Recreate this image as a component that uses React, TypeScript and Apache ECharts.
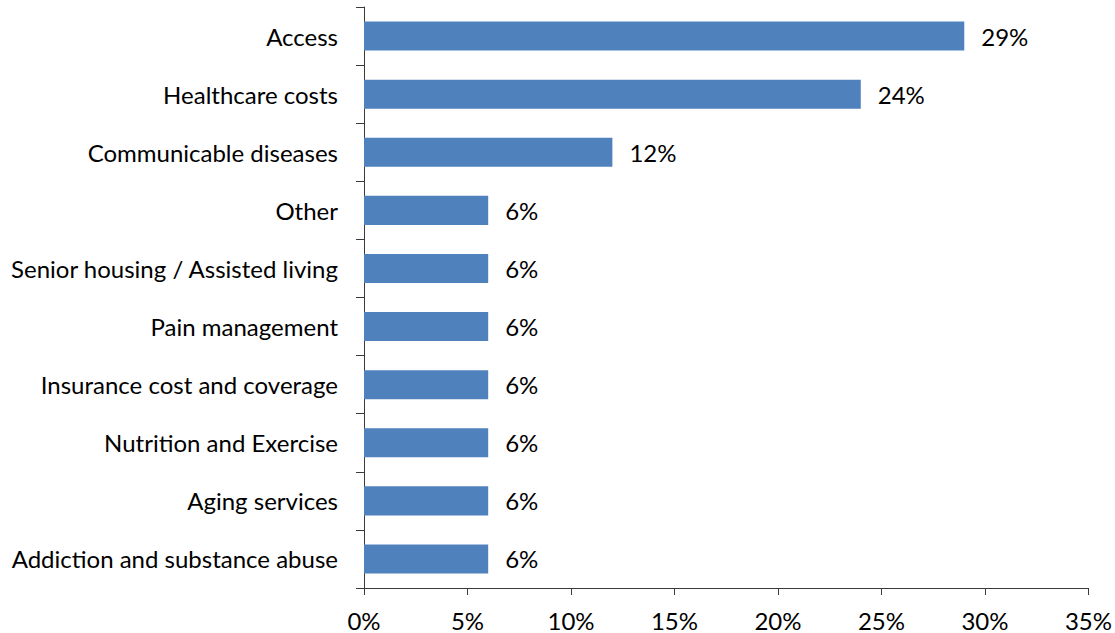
import React, { useEffect, useRef } from "react";
import * as echarts from "echarts";

const categories = [
  "Access",
  "Healthcare costs",
  "Communicable diseases",
  "Other",
  "Senior housing / Assisted living",
  "Pain management",
  "Insurance cost and coverage",
  "Nutrition and Exercise",
  "Aging services",
  "Addiction and substance abuse",
];
const values = [29, 24, 12, 6, 6, 6, 6, 6, 6, 6];
const xTicks = { min: 0, max: 35, interval: 5 };

const FONT = "Lato, 'Open Sans', sans-serif";

export default function App() {
  const ref = useRef<HTMLDivElement>(null);
  useEffect(() => {
    if (!ref.current) return;
    const chart = echarts.init(ref.current, undefined, { renderer: "svg" });
    chart.setOption({
      animation: false,
      backgroundColor: "#ffffff",
      grid: { left: 364, right: 25, top: 7, bottom: 45, containLabel: false },
      xAxis: {
        type: "value",
        min: xTicks.min,
        max: xTicks.max,
        interval: xTicks.interval,
        splitLine: { show: false },
        axisLine: { show: true, lineStyle: { color: "#3a3a3a", width: 1 } },
        axisTick: { show: true, length: 7, lineStyle: { color: "#3a3a3a" } },
        axisLabel: {
          formatter: (v: number) => v + "%",
          color: "#000",
          fontFamily: FONT,
          fontSize: 24,
          margin: 20,
        },
      },
      yAxis: {
        type: "category",
        data: categories,
        inverse: true,
        axisLine: { show: true, lineStyle: { color: "#3a3a3a", width: 1 } },
        axisTick: { show: true, length: 8, lineStyle: { color: "#3a3a3a" } },
        axisLabel: {
          color: "#000",
          fontFamily: FONT,
          fontSize: 24,
          margin: 26,
        },
      },
      series: [
        {
          type: "bar",
          data: values,
          barCategoryGap: "50%",
          itemStyle: { color: "#4F81BD" },
          label: {
            show: true,
            position: "right",
            distance: 17,
            formatter: (p: any) => p.value + "%",
            color: "#000",
            fontFamily: FONT,
            fontSize: 24,
          },
        },
      ],
    });
    return () => chart.dispose();
  }, []);
  return (
    <div
      ref={ref}
      style={{ position: "fixed", left: 0, top: 0, width: 1115, height: 633 }}
    />
  );
}
